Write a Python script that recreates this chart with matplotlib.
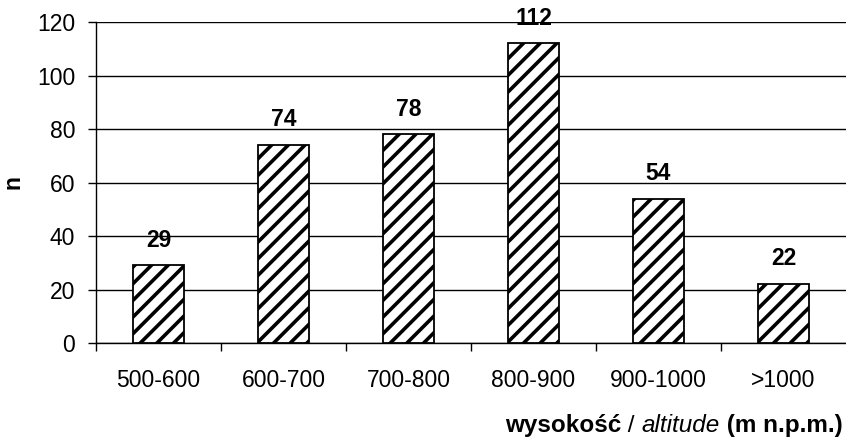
import matplotlib
matplotlib.use("Agg")
import matplotlib.pyplot as plt
from matplotlib.offsetbox import TextArea, HPacker, AnchoredOffsetbox

categories = ["500-600", "600-700", "700-800", "800-900", "900-1000", ">1000"]
counts = [29, 74, 78, 112, 54, 22]
y_ticks = [0, 20, 40, 60, 80, 100, 120]

plt.rcParams["font.family"] = ["Liberation Sans", "DejaVu Sans"]
plt.rcParams["hatch.linewidth"] = 2.6
plt.rcParams["hatch.color"] = "black"

FS = 16.5

fig = plt.figure(figsize=(8.46, 4.42), dpi=100)
ax = fig.add_axes([0.1135, 0.224, 0.8865, 0.726])

x = list(range(len(categories)))
ax.bar(x, counts, width=0.41, facecolor="white", edgecolor="black",
       linewidth=1.3, hatch="//", zorder=3)

for xi, v in zip(x, counts):
    ax.annotate(str(v), (xi, v), xytext=(0, 13.5), textcoords="offset points",
                ha="center", va="baseline", fontsize=FS, fontweight="bold")

ax.set_xlim(-0.5, len(categories) - 0.5)
ax.set_ylim(0, 120)
ax.set_yticks(y_ticks)
ax.tick_params(axis="y", labelsize=FS, length=6, width=1, direction="out", pad=9)
ax.yaxis.grid(True, color="black", linewidth=1)
ax.set_axisbelow(True)

# category labels centred under bars, tick marks between categories
ax.set_xticks([i + 0.5 for i in x[:-1]] + [-0.5])
ax.set_xticklabels([])
ax.set_xticks(x, minor=True)
ax.set_xticklabels(categories, minor=True, fontsize=FS)
ax.tick_params(axis="x", which="major", length=6, width=1, direction="out")
ax.tick_params(axis="x", which="minor", length=0, pad=19)

for s in ["top", "right"]:
    ax.spines[s].set_visible(False)
ax.spines["left"].set_linewidth(1)
ax.spines["bottom"].set_linewidth(1)

ax.set_ylabel("n", fontsize=FS, fontweight="bold", labelpad=9)

XL = 17.5
parts = [
    TextArea("wysokość", textprops=dict(fontsize=XL, fontweight="bold")),
    TextArea(" / ", textprops=dict(fontsize=XL)),
    TextArea("altitude", textprops=dict(fontsize=XL, style="italic")),
    TextArea(" (m n.p.m.)", textprops=dict(fontsize=XL, fontweight="bold")),
]
pack = HPacker(children=parts, align="baseline", pad=0, sep=0)
box = AnchoredOffsetbox(loc="lower right", child=pack, frameon=False,
                        bbox_to_anchor=(0.996, 0.012), bbox_transform=fig.transFigure,
                        borderpad=0, pad=0)
fig.add_artist(box)

fig.savefig("out.png", dpi=100)
